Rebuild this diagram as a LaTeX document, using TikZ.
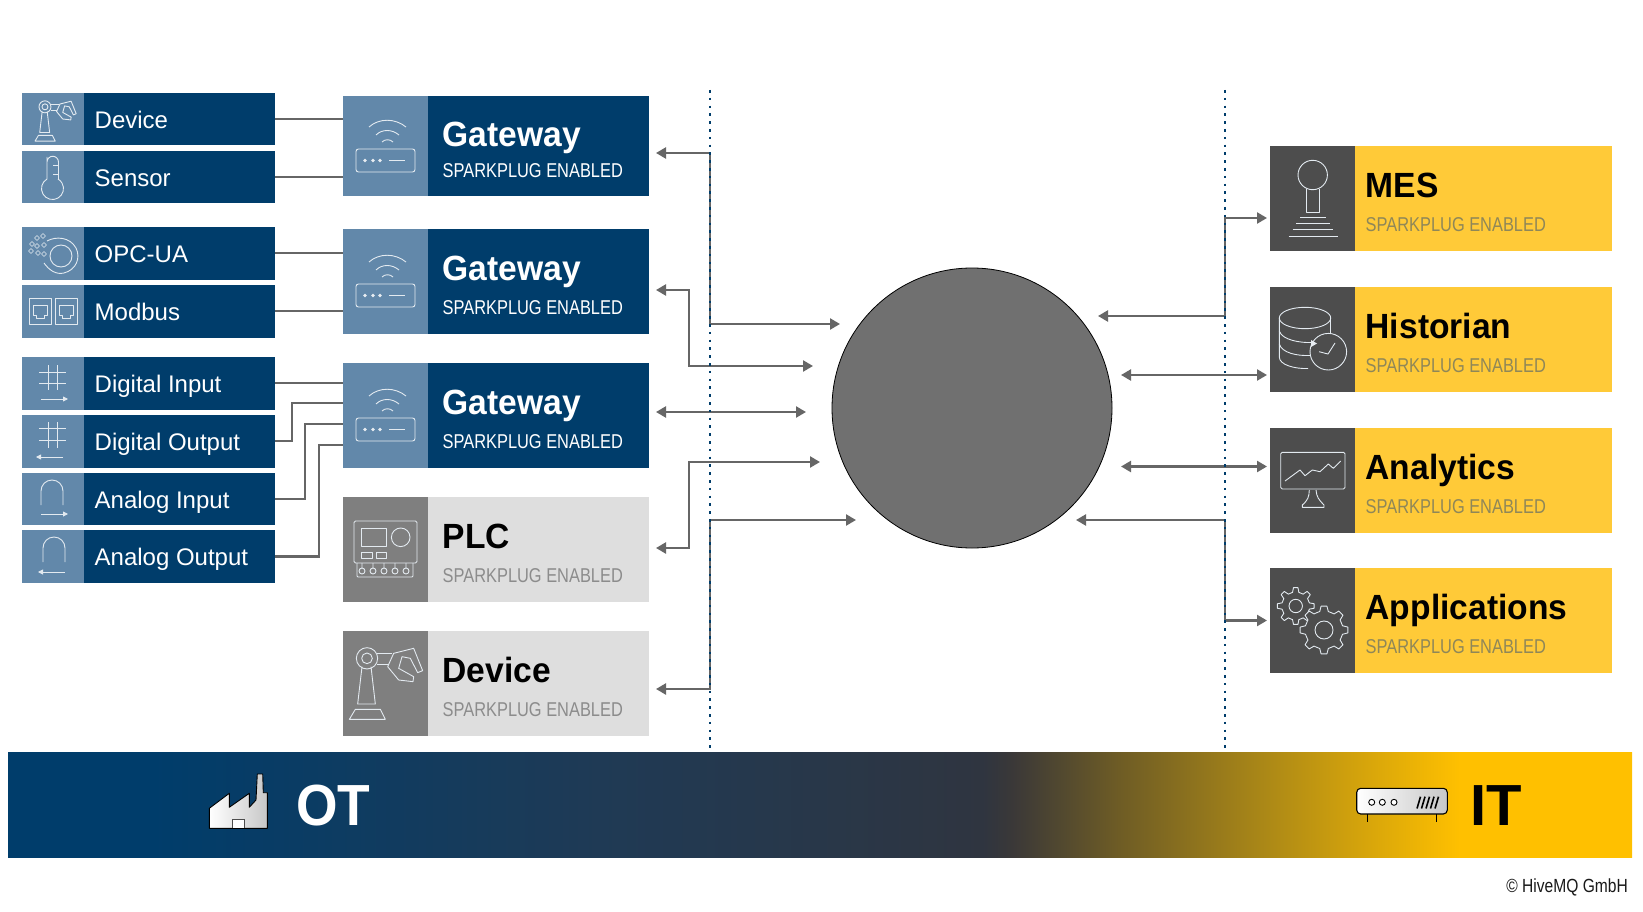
\documentclass[tikz,border=0pt]{standalone}
\usepackage{fontspec}
\setmainfont{Liberation Sans}
\newfontfamily\condfont[FakeStretch=0.82]{Liberation Sans}
\newfontfamily\titlefont[FakeStretch=0.96]{Liberation Sans}
\newfontfamily\otfont[FakeStretch=0.92]{Liberation Sans}
\usetikzlibrary{arrows.meta}
\definecolor{navy}{HTML}{003D6B}
\definecolor{steel}{HTML}{6288AA}
\definecolor{lightbox}{HTML}{DEDEDE}
\definecolor{midgray}{HTML}{7F7F7F}
\definecolor{yel}{HTML}{FFCA38}
\definecolor{darkic}{HTML}{4D4D4D}
\definecolor{hubgray}{HTML}{707070}
\definecolor{conn}{HTML}{666666}
\definecolor{subgray}{HTML}{8C8C8C}
\definecolor{subyel}{HTML}{8F8758}
\definecolor{gradA}{HTML}{1F3A55}
\definecolor{gradB}{HTML}{2F3540}
\definecolor{gradC}{HTML}{3A3838}
\definecolor{gradD}{HTML}{6E5C25}
\definecolor{gradE}{HTML}{AE8A16}
\definecolor{gradF}{HTML}{FFC000}
\pgfdeclarehorizontalshading{barshade}{100bp}{
 color(0bp)=(navy);
 color(25bp)=(navy);
 color(29.4bp)=(navy);
 color(43.2bp)=(gradA);
 color(55bp)=(gradB);
 color(55.9bp)=(gradC);
 color(59.2bp)=(gradD);
 color(63.9bp)=(gradE);
 color(69.7bp)=(gradF);
 color(75bp)=(gradF);
 color(100bp)=(gradF)}
\tikzset{
 boxbase/.style={rectangle,draw=none,inner sep=0pt,outer sep=0pt,anchor=north west},
 smalllabel/.style={inner sep=0pt,anchor=base west,text=white,font=\fontsize{24}{24}\selectfont},
 bigtitle/.style={inner sep=0pt,anchor=base west,font=\titlefont\fontsize{35}{35}\selectfont\bfseries},
 bigsub/.style={inner sep=0pt,anchor=base west,font=\condfont\fontsize{20}{20}\selectfont},
 ic/.style={draw=white!82!steel,line width=0.9pt,line join=round},
 wire/.style={draw=conn,line width=2.3pt},
 darr/.style={draw=conn,line width=2.3pt,{Triangle[length=10pt,width=11pt]}-{Triangle[length=10pt,width=11pt]}},
 dotline/.style={draw=navy,line width=2pt,dash pattern=on 2.6pt off 5.2pt},
}
\newcommand{\subY}{85.5}
\newcommand{\textX}{99.5}
% #1 name #2 y #3 label
\newcommand{\smallbox}[3]{%
 \begin{scope}[shift={(22,#2)}]
 \node[boxbase,fill=navy,minimum width=253pt,minimum height=52.5pt] (#1) at (0,0) {};
 \node[boxbase,fill=steel,minimum width=62pt,minimum height=52.5pt] (#1-i) at (0,0) {};
 \node[smalllabel] (#1-t) at (72.5,35.5) {#3};
 \end{scope}}
% #1 name #2 x #3 y #4 h #5 total w #6 body #7 icon #8 titlecol #9 subcol, title follows
\newcommand{\bigbox}[9]{%
 \begin{scope}[shift={(#2,#3)}]
 \node[boxbase,fill=#6,minimum width=#5pt,minimum height=#4pt] (#1) at (0,0) {};
 \node[boxbase,fill=#7,minimum width=85pt,minimum height=#4pt] (#1-i) at (0,0) {};
 \bigboxtext{#1}{#8}{#9}}
\newcommand{\bigboxtext}[4]{%
 \node[bigtitle,text=#2] (#1-t) at (\textX,51) {#4};
 \node[bigsub,text=#3] (#1-s) at (\textX,\subY) {SPARKPLUG ENABLED};
 \end{scope}}
\newcommand{\robot}{%
 \draw[ic] (19,265)--(37,235)--(112,235)--(127,265)--cycle;
 \draw[ic] (57,107)--(44,219)--(97,219)--(84,107);
 \draw[ic] (72,82) circle[radius=32pt];
 \draw[ic] (72,82) circle[radius=16pt];
 \draw[ic] (102,67)--(147,67) (102,99)--(137,99);
 \draw[ic] (134,107)--(152,67)--(212,52)--(239,119)--(224,125)--(202,82)--(177,77)--(167,112)--(212,137)--(210,152)--(167,147)--cycle;
}
\newcommand{\router}{%
 \draw[ic,rounded corners=2.5pt] (13,53) rectangle (72,76);
 \fill[white!85!steel] (22,64.5) circle[radius=1.9pt] (30,64.5) circle[radius=1.9pt] (37,64.5) circle[radius=1.9pt];
 \draw[ic] (46,64.5)--(62,64.5);
 \draw[ic] (26,31) .. controls (36,22) and (52,22) .. (63,31);
 \draw[ic] (33,39) .. controls (39,33) and (49,33) .. (56,39);
 \draw[ic] (39,46) .. controls (42,43) and (47,43) .. (50,46);
}
\newcommand{\gearicon}[6]{% cx cy rout rin hole n-step
 \begin{scope}[shift={(#1,#2)}]
 \draw[ic,fill=darkic] ({-13}:#4pt) \foreach \a in {0,#6,...,359} { -- ({\a-13}:#4pt) -- ({\a-7}:#3pt) -- ({\a+7}:#3pt) -- ({\a+13}:#4pt) } -- cycle;
 \draw[ic] (0,0) circle[radius=#5pt];
 \end{scope}}
\begin{document}
\begin{tikzpicture}[x=1pt,y=-1pt]
\useasboundingbox (0,0) rectangle (1643,912);
\fill[white] (0,0) rectangle (1643,912);

% bottom bar
\node[boxbase,minimum width=1624pt,minimum height=105pt,shading=barshade] (bar) at (8,752) {};

% small boxes
\smallbox{sdev}{93}{Device}
\smallbox{ssen}{151}{Sensor}
\smallbox{sopc}{227}{OPC-UA}
\smallbox{smod}{285}{Modbus}
\smallbox{sdi}{357}{Digital Input}
\smallbox{sdo}{415}{Digital Output}
\smallbox{sai}{472.7}{Analog Input}
\smallbox{sao}{530.3}{Analog Output}

% big boxes
\renewcommand{\subY}{81.5}
\bigbox{gw1}{343}{96}{100}{306}{navy}{steel}{white}{white}{Gateway}
\renewcommand{\subY}{85.5}
\bigbox{gw2}{343}{229}{104.5}{306}{navy}{steel}{white}{white}{Gateway}
\bigbox{gw3}{343}{363}{104.5}{306}{navy}{steel}{white}{white}{Gateway}
\bigbox{plc}{343}{497}{104.5}{306}{lightbox}{midgray}{black}{subgray}{PLC}
\bigbox{dev}{343}{631}{104.5}{306}{lightbox}{midgray}{black}{subgray}{Device}
\renewcommand{\textX}{95.5}
\bigbox{mes}{1270}{146}{104.5}{342}{yel}{darkic}{black}{subyel}{MES}
\bigbox{his}{1270}{287}{104.5}{342}{yel}{darkic}{black}{subyel}{Historian}
\bigbox{ana}{1270}{428}{104.5}{342}{yel}{darkic}{black}{subyel}{Analytics}
\bigbox{app}{1270}{568}{104.5}{342}{yel}{darkic}{black}{subyel}{Applications}

% hub
\node[circle,draw=black,line width=0.8pt,fill=hubgray,minimum size=280pt,inner sep=0pt] (hub) at (972,408) {};

% left wires
\draw[wire] (sdev.east) -- (sdev.east -| gw1.west);
\draw[wire] (ssen.east) -- (ssen.east -| gw1.west);
\draw[wire] (sopc.east) -- (sopc.east -| gw2.west);
\draw[wire] (smod.east) -- (smod.east -| gw2.west);
\draw[wire] (sdi.east) -- (sdi.east -| gw3.west);
\coordinate (g3b) at (343,403); \coordinate (g3c) at (343,424); \coordinate (g3d) at (343,445);
\draw[wire] (sdo.east) -- ++(17,0) |- (g3b);
\draw[wire] (sai.east) -- ++(30,0) |- (g3c);
\draw[wire] (sao.east) -- ++(44,0) |- (g3d);

% left arrows
\coordinate (tg1) at (656,153); \coordinate (th1) at (840,324);
\coordinate (tg2) at (656,290); \coordinate (th2) at (813,366);
\coordinate (tg3) at (656,412); \coordinate (th3) at (806,412);
\coordinate (tp) at (656,548); \coordinate (th4) at (820,462);
\coordinate (td) at (656,689); \coordinate (th5) at (856,520);
\draw[darr] (tg1) -| (710,324) -- (th1);
\draw[darr] (tg2) -| (689,366) -- (th2);
\draw[darr] (tg3) -- (th3);
\draw[darr] (tp) -| (689,462) -- (th4);
\draw[darr] (td) -| (710,520) -- (th5);

% right arrows
\coordinate (hr1) at (1098,316); \coordinate (tm) at (1267,218);
\coordinate (hr2) at (1121,375); \coordinate (thi) at (1267,375);
\coordinate (hr3) at (1121,466.5); \coordinate (tan) at (1267,466.5);
\coordinate (hr4) at (1076,520); \coordinate (tap) at (1267,620.5);
\draw[darr] (hr1) -| (1225,218) -- (tm);
\draw[darr] (hr2) -- (thi);
\draw[darr] (hr3) -- (tan);
\draw[darr] (hr4) -| (1225,620.5) -- (tap);

% dotted separators
\coordinate (sepLt) at (710,90); \coordinate (sepLb) at (710,752);
\coordinate (sepRt) at (1225,90); \coordinate (sepRb) at (1225,752);
\draw[dotline] (sepLt) -- (sepLb);
\draw[dotline] (sepRt) -- (sepRb);

% icons: small
\begin{scope}[shift={(31.5,91.5)},scale=0.187] \robot \end{scope}
% sensor
\draw[ic] (47,157)--(47,179) arc[start angle=120,end angle=420,radius=11pt] (58.5,179)--(58.5,162) arc[start angle=0,end angle=180,radius=5.75pt];
\draw[ic] (53,165)--(58.5,165) (53,174)--(58.5,174);
% OPC-UA
\draw[ic] (61,256) circle[radius=11pt];
\draw[ic] (47,241) .. controls (56,236) and (70,237) .. (76,248) .. controls (81,258) and (76,270) .. (64,273) .. controls (56,275) and (49,270) .. (44,263);
\foreach \p/\q in {37/238,43/236,32/244,37/246,44/245,31/251,38/253,44/254}{
 \draw[ic,line width=0.7pt] (\p-2.5,\q)--(\p,\q-2.5)--(\p+2.5,\q)--(\p,\q+2.5)--cycle;}
% Modbus
\foreach \o in {0,26}{
 \draw[ic] (29+\o,298) rectangle (51+\o,324);
 \draw[ic] (33+\o,305)--(47+\o,305)--(47+\o,315)--(44+\o,315)--(44+\o,318)--(36+\o,318)--(36+\o,315)--(33+\o,315)--cycle;
}
% digital
\draw[ic] (48,365)--(48,390) (57,365)--(57,390) (39,372)--(66,372) (39,383)--(66,383);
\draw[ic,-{Triangle[length=5pt,width=5pt]}] (41,399)--(68,399);
\draw[ic] (48,422)--(48,448) (57,422)--(57,448) (39,428)--(66,428) (39,440)--(66,440);
\draw[ic,-{Triangle[length=5pt,width=5pt]}] (63,457)--(36,457);
% analog
\draw[ic] (41,505)--(41,491) arc[start angle=180,end angle=0,radius=11pt] -- (63,505);
\draw[ic,-{Triangle[length=5pt,width=5pt]}] (41,514)--(68,514);
\draw[ic] (43,562)--(43,548) arc[start angle=180,end angle=0,radius=11pt] -- (65,562);
\draw[ic,-{Triangle[length=5pt,width=5pt]}] (65,572)--(38,572);

% routers
\begin{scope}[shift={(343,96)}] \router \end{scope}
\begin{scope}[shift={(343,231)}] \router \end{scope}
\begin{scope}[shift={(343,365)}] \router \end{scope}

% PLC
\draw[ic,rounded corners=1.5pt] (354,521) rectangle (417,563);
\draw[ic] (361,528) rectangle (386,546);
\draw[ic] (400.7,537.3) circle[radius=9.3pt];
\draw[ic] (361,552) rectangle (372,558) (376,552) rectangle (386,558);
\draw[ic,rounded corners=1pt] (357,563) -- (357,577) -- (413,577) -- (413,563);
\foreach \c in {362,373,384,395,406}{ \draw[ic] (\c,571) circle[radius=3pt] (\c,563)--(\c,568); }

% big robot
\begin{scope}[shift={(343,631)},scale=0.3333]
 \robot
\end{scope}

% MES joystick
\draw[ic] (1312.7,175) circle[radius=14.7pt];
\draw[ic] (1306.7,189) -- (1306.7,212) -- (1319.3,212) -- (1319.3,189);
\draw[ic] (1300,217.5)--(1325.5,217.5) (1296,223.5)--(1329.5,223.5) (1292.5,229.5)--(1333,229.5) (1288.5,236)--(1337.5,236);

% Historian
\draw[ic] (1305,318) ellipse[x radius=25.7pt,y radius=10.7pt];
\draw[ic] (1279.3,318) -- (1279.3,357) .. controls (1279.3,365) and (1295,369) .. (1308,368.5);
\draw[ic] (1330.7,318) -- (1330.7,335);
\draw[ic] (1279.3,331) .. controls (1282,340) and (1300,343) .. (1312,342.5);
\draw[ic] (1279.3,344) .. controls (1282,353) and (1297,356) .. (1310,355.5);
\draw[ic,fill=darkic] (1328.3,351.7) circle[radius=18.3pt];
\fill[white!85!steel] (1311,340) -- (1317,343.5) -- (1311,347) -- cycle;
\draw[ic] (1319,351.7) -- (1328,354) -- (1335,343);

% Analytics
\draw[ic,rounded corners=1.5pt] (1280.7,452.3) rectangle (1345,489);
\draw[ic] (1285,481) -- (1300,470) -- (1305,475.7) -- (1312.3,470) -- (1320,471.7) -- (1328.3,464) -- (1333.3,468.3) -- (1340.7,461);
\draw[ic] (1309.3,490) .. controls (1309,497) and (1308,500) .. (1302.3,505) -- (1302.3,507.3) -- (1324,507.3) -- (1324,505) .. controls (1319,500) and (1316.5,497) .. (1316,490);

% Gears
\gearicon{1295.7}{606}{18.5}{14}{6.7}{45}
\gearicon{1324}{630}{24}{19}{9}{45}

% OT / IT
\node[inner sep=0pt,anchor=base west,text=white,font=\otfont\fontsize{58}{58}\selectfont\bfseries] (ot) at (296,825) {OT};
\node[inner sep=0pt,anchor=base west,text=black,font=\fontsize{58}{58}\selectfont\bfseries] (it) at (1470,825) {IT};
% factory
\draw[draw=black,line width=0.9pt,left color=white,right color=black!22,line join=round] (209.3,828.3) -- (209.3,808.3) -- (229.3,793.3) -- (229.3,807.3) -- (249.3,793.3) -- (249.3,807.3) -- (256,800) -- (257.3,774) -- (262.7,774) -- (263.3,792.7) -- (267.3,792.7) -- (267.3,828.3) -- cycle;
\draw[draw=black!70,line width=0.9pt,fill=white] (232.7,828.3) -- (232.7,819.3) -- (244,819.3) -- (244,828.3);
% IT device
\draw[draw=black,line width=1.1pt,left color=white,right color=black!22,rounded corners=4pt] (1356.7,788.3) rectangle (1447.3,814);
\draw[black,line width=1.3pt] (1367.7,814)--(1367.7,821.7) (1436.7,814)--(1436.7,821.7);
\foreach \c in {1371.7,1382.3,1394}{ \draw[black,line width=0.9pt,fill=white] (\c,802.3) circle[radius=3pt]; }
\foreach \c in {1417,1421.5,1426,1430.5,1435}{ \draw[black,line width=1.6pt] (\c,808.5) -- (\c+3.5,796.7); }
% copyright
\node[inner sep=0pt,anchor=base east,text=black!90,font=\condfont\fontsize{19}{19}\selectfont] (copy) at (1628,892) {© HiveMQ GmbH};
\end{tikzpicture}
\end{document}
